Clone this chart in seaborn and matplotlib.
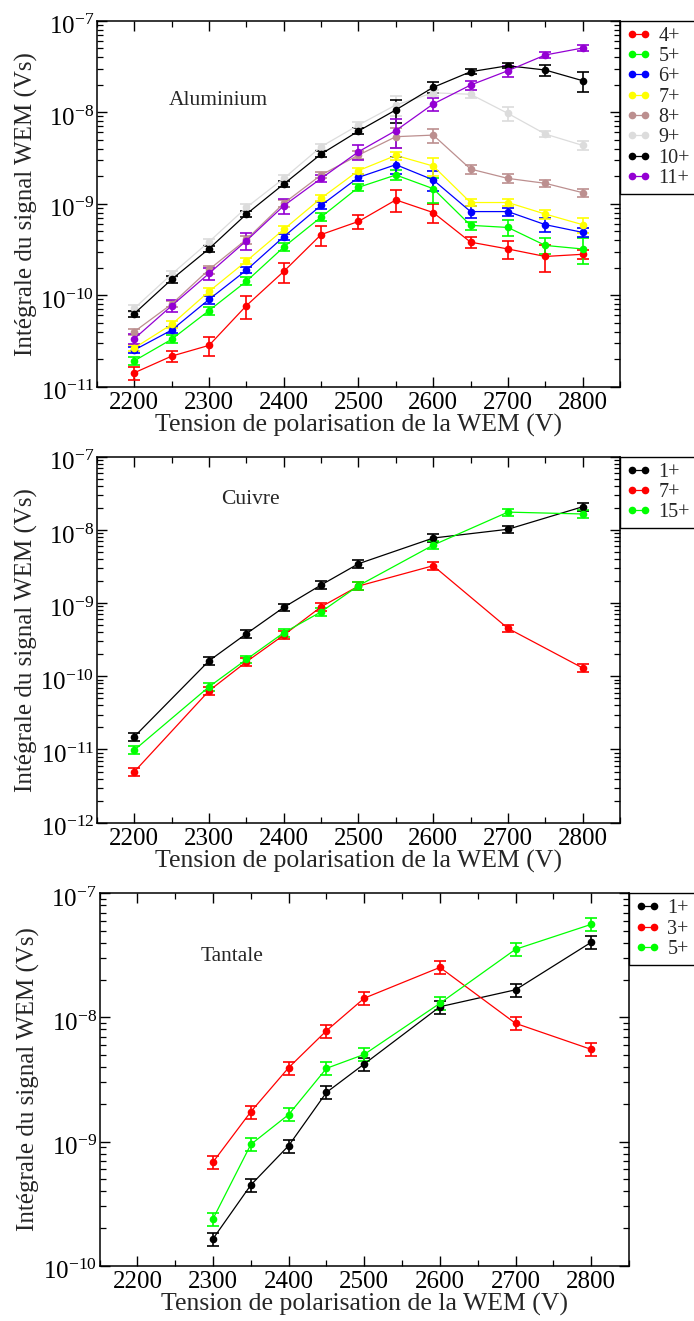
import numpy as np
import pandas as pd
import matplotlib
matplotlib.use("Agg")
import matplotlib.pyplot as plt
import matplotlib.transforms as mtransforms
import seaborn as sns
from matplotlib.ticker import LogLocator, MultipleLocator, NullFormatter, FixedLocator

# ---------------- data ----------------
volts_al = [2200, 2250, 2300, 2350, 2400, 2450, 2500, 2550, 2600, 2650, 2700, 2750, 2800]
al_labels = ["4+", "5+", "6+", "7+", "8+", "9+", "10+", "11+"]
al_4 = [1.42e-11, 2.16e-11, 2.83e-11, 7.7e-11, 1.82e-10, 4.6e-10, 6.4e-10, 1.10e-9, 8.0e-10, 3.8e-10, 3.2e-10, 2.65e-10, 2.8e-10]
al_5 = [1.92e-11, 3.3e-11, 6.8e-11, 1.42e-10, 3.36e-10, 7.15e-10, 1.51e-9, 2.06e-9, 1.46e-9, 5.8e-10, 5.5e-10, 3.5e-10, 3.2e-10]
al_6 = [2.52e-11, 4.16e-11, 9.0e-11, 1.88e-10, 4.36e-10, 9.6e-10, 1.94e-9, 2.67e-9, 1.82e-9, 8.2e-10, 8.2e-10, 5.9e-10, 4.86e-10]
al_7 = [2.65e-11, 4.8e-11, 1.10e-10, 2.36e-10, 5.24e-10, 1.15e-9, 2.30e-9, 3.37e-9, 2.58e-9, 1.03e-9, 1.03e-9, 7.7e-10, 5.9e-10]
al_8 = [4.0e-11, 8.0e-11, 1.91e-10, 4.07e-10, 1.01e-9, 2.06e-9, 3.4e-9, 5.4e-9, 5.62e-9, 2.39e-9, 1.89e-9, 1.67e-9, 1.32e-9]
al_9 = [7.2e-11, 1.70e-10, 3.84e-10, 9.1e-10, 1.89e-9, 4.2e-9, 7.24e-9, 1.2e-8, 1.63e-8, 1.57e-8, 9.7e-9, 5.77e-9, 4.34e-9]
al_10 = [6.3e-11, 1.49e-10, 3.22e-10, 7.7e-10, 1.64e-9, 3.49e-9, 6.23e-9, 1.06e-8, 1.87e-8, 2.77e-8, 3.22e-8, 2.89e-8, 2.21e-8]
al_11 = [3.35e-11, 7.67e-11, 1.73e-10, 3.94e-10, 9.5e-10, 1.89e-9, 3.7e-9, 6.3e-9, 1.23e-8, 1.98e-8, 2.84e-8, 4.22e-8, 5.03e-8]
# relative error-bar half sizes
al_4_err = [0.17, 0.13, 0.24, 0.28, 0.25, 0.25, 0.17, 0.27, 0.24, 0.13, 0.22, 0.32, 0.12]
al_5_err = [0.10, 0.10, 0.10, 0.10, 0.10, 0.10, 0.08, 0.12, 0.30, 0.10, 0.20, 0.20, 0.32]
al_6_err = [0.08, 0.08, 0.10, 0.08, 0.08, 0.08, 0.08, 0.20, 0.25, 0.14, 0.10, 0.17, 0.11]
al_7_err = [0.08, 0.08, 0.08, 0.08, 0.08, 0.08, 0.08, 0.10, 0.22, 0.09, 0.09, 0.12, 0.18]
al_8_err = [0.08, 0.08, 0.10, 0.10, 0.10, 0.08, 0.10, 0.25, 0.17, 0.11, 0.12, 0.08, 0.10]
al_9_err = [0.08, 0.08, 0.08, 0.08, 0.08, 0.08, 0.08, 0.25, 0.08, 0.10, 0.18, 0.07, 0.11]
al_10_err = [0.08, 0.08, 0.08, 0.08, 0.08, 0.08, 0.08, 0.28, 0.13, 0.06, 0.06, 0.14, 0.25]
al_11_err = [0.13, 0.15, 0.15, 0.20, 0.18, 0.08, 0.19, 0.35, 0.17, 0.11, 0.14, 0.07, 0.07]

volts_cu = [2200, 2300, 2350, 2400, 2450, 2500, 2600, 2700, 2800]
cu_labels = ["1+", "7+", "15+"]
cu_1 = [1.50e-11, 1.63e-10, 3.82e-10, 8.75e-10, 1.77e-9, 3.45e-9, 7.74e-9, 1.02e-8, 2.07e-8]
cu_7 = [4.98e-12, 6.35e-11, 1.58e-10, 3.66e-10, 8.9e-10, 1.71e-9, 3.24e-9, 4.52e-10, 1.30e-10]
cu_15 = [9.84e-12, 7.2e-11, 1.70e-10, 3.94e-10, 7.6e-10, 1.73e-9, 6.2e-9, 1.75e-8, 1.65e-8]
cu_1_err = [0.13, 0.12, 0.12, 0.12, 0.12, 0.12, 0.12, 0.12, 0.12]
cu_7_err = [0.12, 0.12, 0.12, 0.12, 0.12, 0.12, 0.12, 0.12, 0.12]
cu_15_err = [0.12, 0.12, 0.12, 0.12, 0.12, 0.12, 0.12, 0.12, 0.12]

volts_ta = [2300, 2350, 2400, 2450, 2500, 2600, 2700, 2800]
ta_labels = ["1+", "3+", "5+"]
ta_1 = [1.65e-10, 4.47e-10, 9.27e-10, 2.49e-9, 4.22e-9, 1.22e-8, 1.67e-8, 4.03e-8]
ta_3 = [6.84e-10, 1.74e-9, 3.94e-9, 7.82e-9, 1.43e-8, 2.53e-8, 8.96e-9, 5.53e-9]
ta_5 = [2.39e-10, 9.49e-10, 1.65e-9, 3.89e-9, 5.04e-9, 1.30e-8, 3.54e-8, 5.62e-8]
ta_1_err = [0.12, 0.12, 0.12, 0.12, 0.12, 0.12, 0.12, 0.12]
ta_3_err = [0.12, 0.12, 0.12, 0.12, 0.12, 0.12, 0.12, 0.12]
ta_5_err = [0.12, 0.12, 0.12, 0.12, 0.12, 0.12, 0.12, 0.12]

al_decades = [1e-11, 1e-10, 1e-9, 1e-8, 1e-7]
cu_decades = [1e-12, 1e-11, 1e-10, 1e-9, 1e-8, 1e-7]
ta_decades = [1e-10, 1e-9, 1e-8, 1e-7]

# ---------------- style ----------------
sns.set_style("ticks")
plt.rcParams.update({
    "font.family": ["Liberation Serif", "DejaVu Serif"],
    "mathtext.fontset": "stix",
    "axes.linewidth": 1.1,
    "xtick.direction": "in", "ytick.direction": "in",
    "xtick.top": True, "ytick.right": True,
    "xtick.major.size": 7, "ytick.major.size": 7,
    "xtick.minor.size": 4, "ytick.minor.size": 4,
    "xtick.major.width": 1.0, "ytick.major.width": 1.0,
    "xtick.minor.width": 0.9, "ytick.minor.width": 0.9,
    "xtick.color": "black", "ytick.color": "black",
    "axes.edgecolor": "black",
})

C_RED, C_GREEN, C_BLUE, C_YELLOW = "#ff0000", "#00ff00", "#0000ff", "#ffff00"
C_BROWN, C_GREY, C_BLACK, C_VIOLET = "#bc8f8f", "#dcdcdc", "#000000", "#9400d3"

W, H = 694, 1321
fig = plt.figure(figsize=(W / 100, H / 100), dpi=100)

def px_axes(left, top, right, bottom):
    return fig.add_axes([left / W, 1 - bottom / H, (right - left) / W, (bottom - top) / H])

def draw_panel(ax, volts, series, errs, labels, colors, decades, title, title_pos):
    for vals, er, lab, col in zip(series, errs, labels, colors):
        df = pd.DataFrame({"V": volts, "S": vals})
        yerr = np.array(vals) * np.array(er)
        ax.errorbar(volts, vals, yerr=yerr, fmt="none", ecolor=col,
                    elinewidth=1.2, capsize=4.5, capthick=1.2, zorder=2)
        sns.lineplot(data=df, x="V", y="S", ax=ax, color=col, marker="o",
                     markersize=5.5, markeredgewidth=0, linewidth=0.9,
                     label=lab, zorder=3)
    ax.set_yscale("log")
    ax.set_xlim(2150, 2850)
    ax.set_ylim(decades[0], decades[-1])
    ax.xaxis.set_major_locator(MultipleLocator(100))
    ax.xaxis.set_minor_locator(MultipleLocator(50))
    ax.yaxis.set_major_locator(FixedLocator(decades))
    ax.yaxis.set_minor_locator(LogLocator(base=10, subs=np.arange(2, 10), numticks=20))
    ax.yaxis.set_minor_formatter(NullFormatter())
    ax.tick_params(axis="x", which="major", labelsize=18, pad=4)
    ax.tick_params(axis="y", which="major", labelsize=18, pad=2)
    ax.set_xlabel("Tension de polarisation de la WEM (V)", fontsize=18.5, labelpad=0)
    ax.set_ylabel("Intégrale du signal WEM (Vs)", fontsize=18, labelpad=2)
    ax.text(title_pos[0], title_pos[1], title, transform=ax.transAxes,
            fontsize=15.5, ha="left", va="center")
    # shift y tick labels slightly downward, like the reference
    off = mtransforms.ScaledTranslation(0, -4 / 100, fig.dpi_scale_trans)
    for lab in ax.get_yticklabels():
        lab.set_transform(lab.get_transform() + off)
    h, l = ax.get_legend_handles_labels()
    leg = ax.legend(h, l, loc="upper left", bbox_to_anchor=(1.0, 1.0),
                    borderaxespad=0, numpoints=2, fontsize=14.5, frameon=True,
                    fancybox=False, edgecolor="black", framealpha=1,
                    handlelength=1.25, handletextpad=0.35, labelspacing=0.06,
                    borderpad=0.3)
    leg.get_frame().set_linewidth(1.0)
    for spine in ax.spines.values():
        spine.set_visible(True)

ax1 = px_axes(97, 20.7, 620, 386.7)
draw_panel(ax1, volts_al,
           [al_4, al_5, al_6, al_7, al_8, al_9, al_10, al_11],
           [al_4_err, al_5_err, al_6_err, al_7_err, al_8_err, al_9_err, al_10_err, al_11_err],
           al_labels,
           [C_RED, C_GREEN, C_BLUE, C_YELLOW, C_BROWN, C_GREY, C_BLACK, C_VIOLET],
           al_decades, "Aluminium", (0.138, 0.783))

ax2 = px_axes(97, 456.7, 620, 822.7)
draw_panel(ax2, volts_cu, [cu_1, cu_7, cu_15], [cu_1_err, cu_7_err, cu_15_err],
           cu_labels, [C_BLACK, C_RED, C_GREEN], cu_decades, "Cuivre", (0.237, 0.882))

ax3 = px_axes(99.6, 893.3, 629, 1265.7)
draw_panel(ax3, volts_ta, [ta_1, ta_3, ta_5], [ta_1_err, ta_3_err, ta_5_err],
           ta_labels, [C_BLACK, C_RED, C_GREEN], ta_decades, "Tantale", (0.19, 0.829))

fig.savefig("out.png", dpi=100)
